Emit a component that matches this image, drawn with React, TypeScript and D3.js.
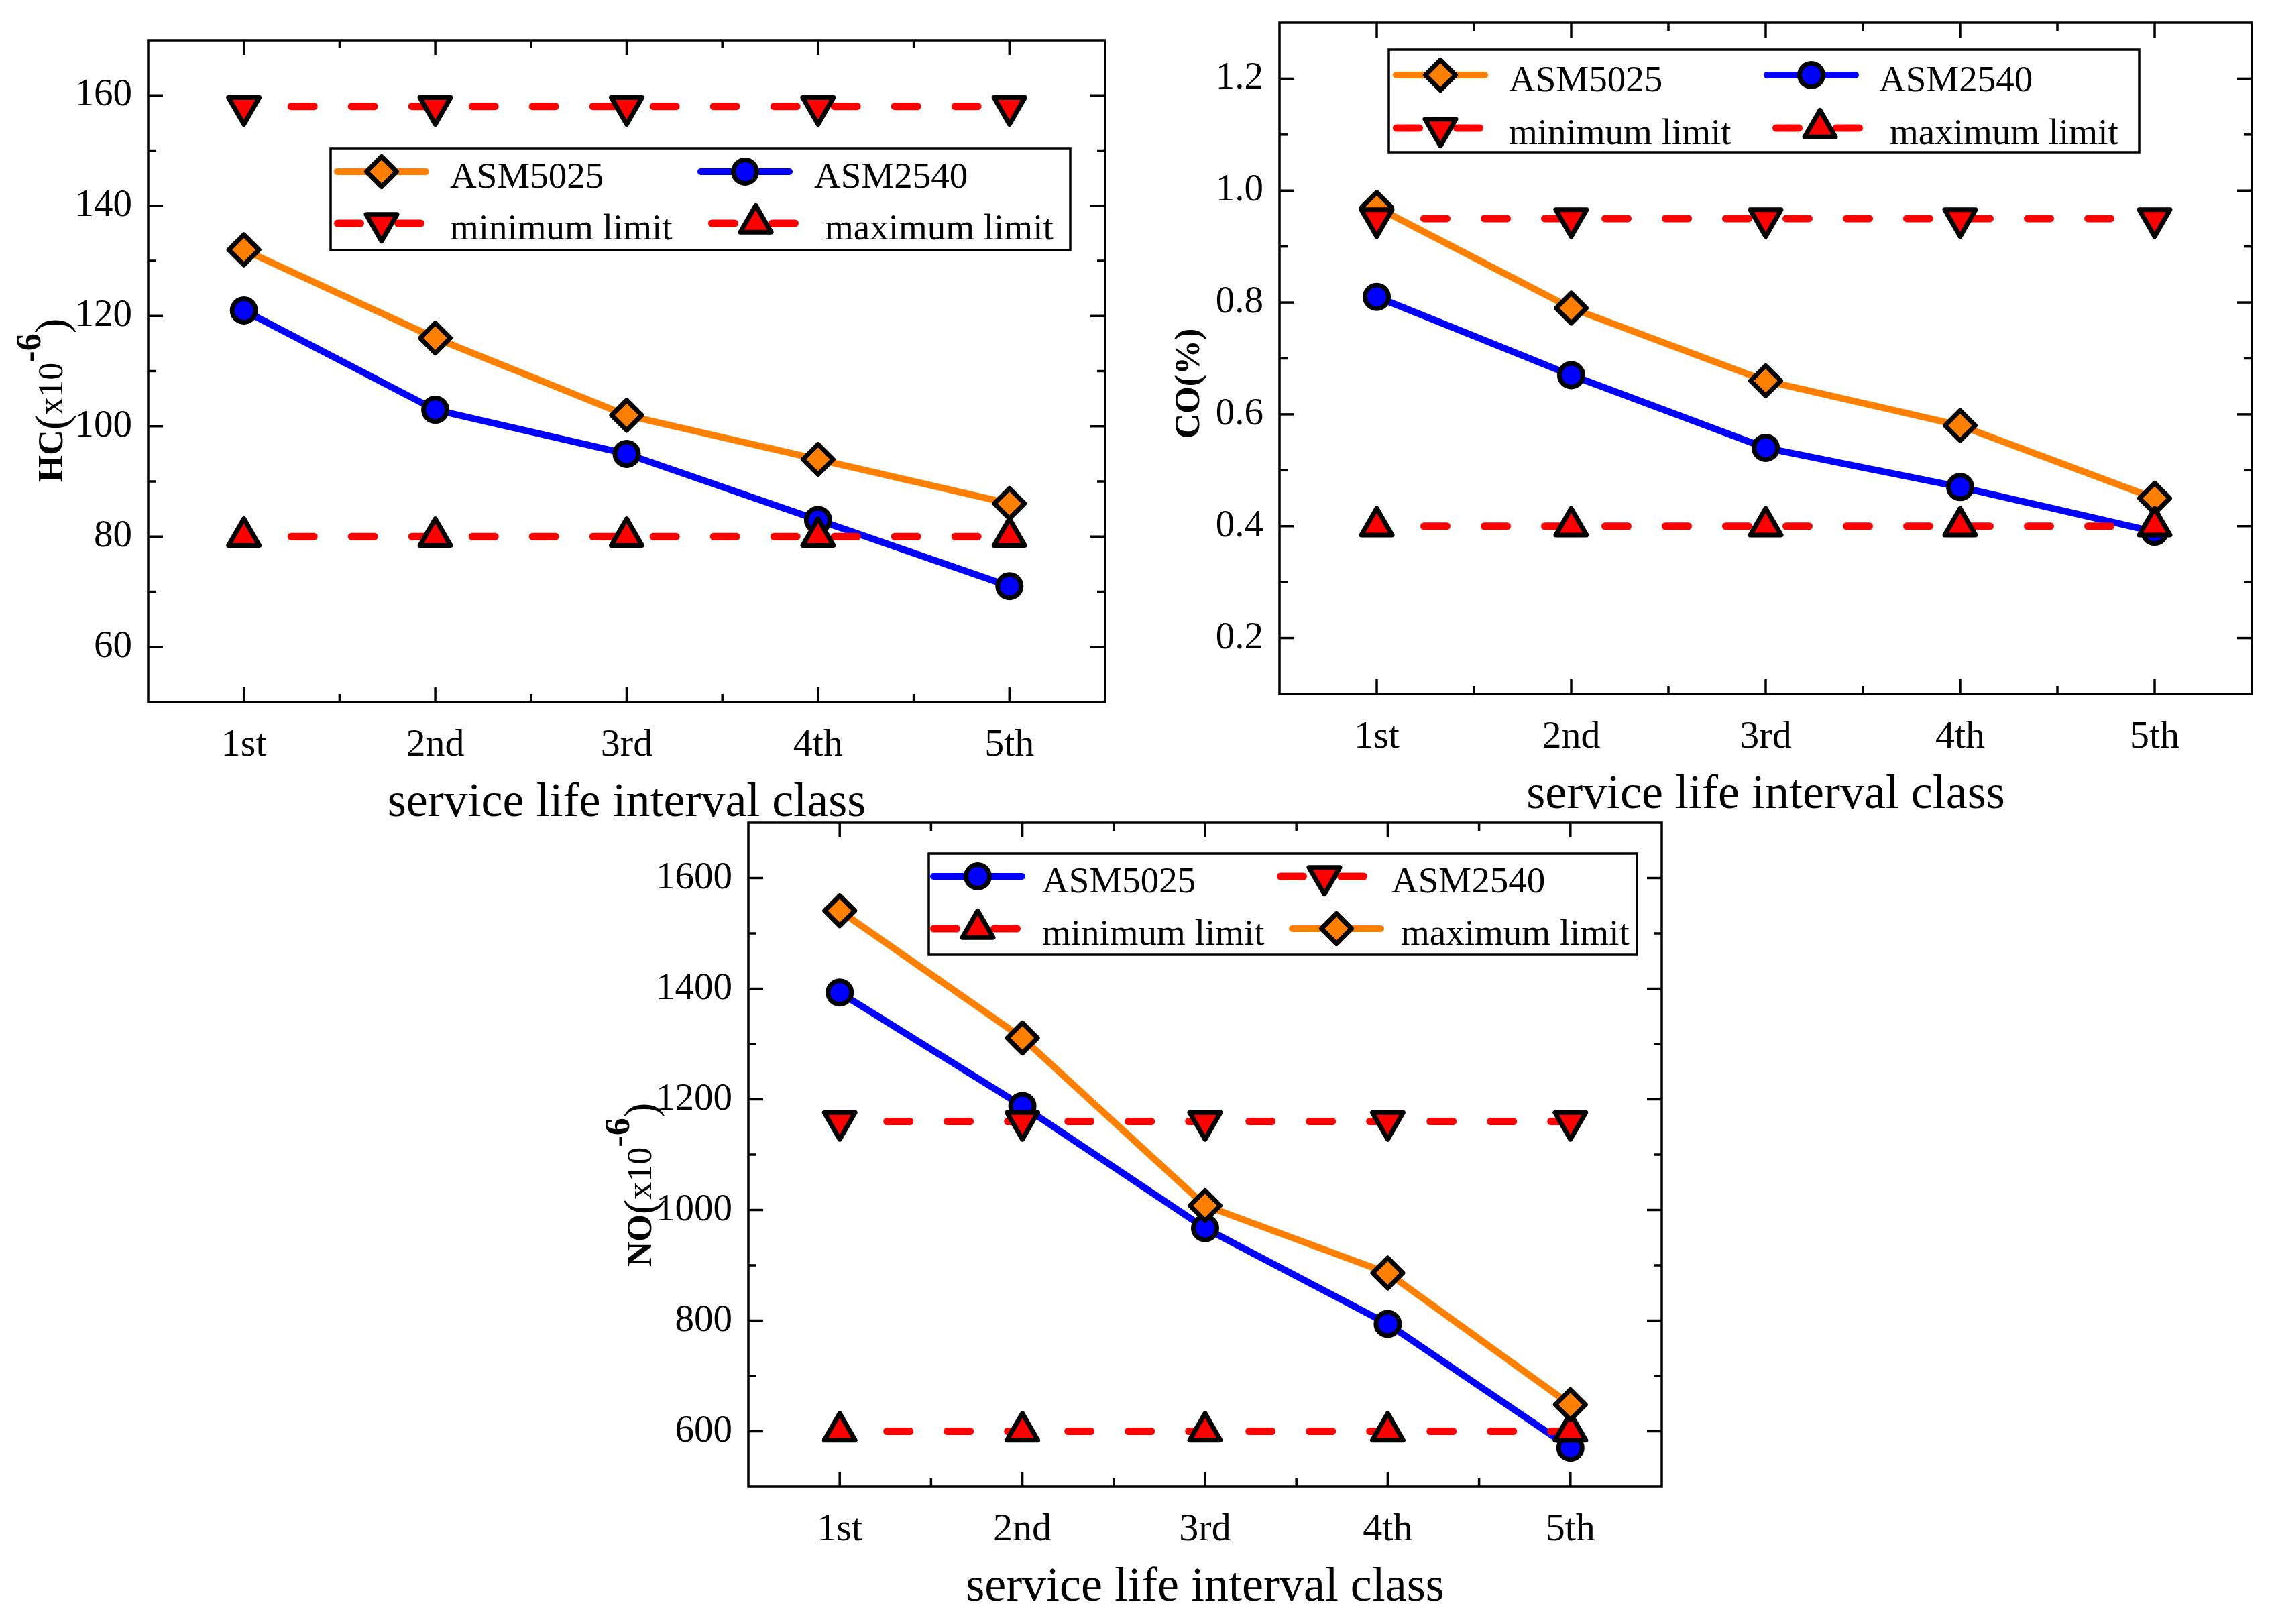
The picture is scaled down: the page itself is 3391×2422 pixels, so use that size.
import React from 'react';
import * as d3 from 'd3';

// service life classes shared by the three panels
const classes = ['1st', '2nd', '3rd', '4th', '5th'];

// HC (x10^-6)
const hcAsm5025 = [132, 116, 102, 94, 86];
const hcAsm2540 = [121, 103, 95, 83, 71];
const hcMinLimit = [158, 158, 158, 158, 158];
const hcMaxLimit = [80, 80, 80, 80, 80];
const hcTicks = [60, 80, 100, 120, 140, 160];
const hcMinor = [70, 90, 110, 130, 150];

// CO (%)
const coAsm5025 = [0.97, 0.79, 0.66, 0.58, 0.45];
const coAsm2540 = [0.81, 0.67, 0.54, 0.47, 0.39];
const coMinLimit = [0.95, 0.95, 0.95, 0.95, 0.95];
const coMaxLimit = [0.4, 0.4, 0.4, 0.4, 0.4];
const coTicks = [0.2, 0.4, 0.6, 0.8, 1.0, 1.2];
const coMinor = [0.3, 0.5, 0.7, 0.9, 1.1];

// NO (x10^-6) - legend labels kept as printed in the figure
const noBlue = [1393, 1188, 967, 794, 570];
const noDown = [1160, 1160, 1160, 1160, 1160];
const noUp = [600, 600, 600, 600, 600];
const noOrange = [1541, 1311, 1008, 886, 648];
const noTicks = [600, 800, 1000, 1200, 1400, 1600];
const noMinor = [700, 900, 1100, 1300, 1500];

const ORANGE = '#FF8000';
const BLUE = '#0000FF';
const RED = '#FF0000';
const FONT = '"Liberation Serif", "Times New Roman", serif';

type Marker = 'diamond' | 'circle' | 'down' | 'up';

interface Series {
  label: string;
  values: number[];
  color: string;
  marker: Marker;
  dashed: boolean;
}

interface LegendLayout {
  x: number;
  y: number;
  w: number;
  h: number;
  rows: [number, number];
  col1Marker: number;
  col1Text: number;
  col2Marker: [number, number];
  col2Text: [number, number];
}

interface PanelProps {
  left: number;
  right: number;
  top: number;
  bottom: number;
  yDomain: [number, number];
  yTicks: number[];
  yMinor: number[];
  yFormat: (v: number) => string;
  titleX: number;
  titleY: number;
  titleMain: string;
  titleExp: boolean;
  series: Series[];
  legend: LegendLayout;
}

const markerPath: Record<Exclude<Marker, 'circle'>, string> = {
  diamond: 'M0,-22.5L22.5,0L0,22.5L-22.5,0Z',
  down: 'M-23,-13.3L23,-13.3L0,26.7Z',
  up: 'M0,-26.7L23,13.3L-23,13.3Z',
};

const Symbol = ({ kind, x, y, fill }: { kind: Marker; x: number; y: number; fill: string }) => {
  const common = { fill, stroke: '#000', strokeWidth: 7, strokeLinejoin: 'round' as const };
  if (kind === 'circle') return <circle cx={x} cy={y} r={17.5} {...common} />;
  return <path d={markerPath[kind]} transform={`translate(${x},${y})`} {...common} />;
};

const DASH = '34 56';
const DASH_PHASE = 19.5;

const Panel = (p: PanelProps) => {
  const x = d3.scaleLinear().domain([0.5, classes.length + 0.5]).range([p.left, p.right]);
  const y = d3.scaleLinear().domain(p.yDomain).range([p.bottom, p.top]);
  const xMajor = classes.map((_, i) => i + 1);
  const xMinor = d3.range(1.5, classes.length, 1);
  const line = d3.line<number>().x((_, i) => x(i + 1)).y(v => y(v));

  const major = 22;
  const minor = 12;
  const cx = (p.left + p.right) / 2;

  return (
    <g fontFamily={FONT}>
      {/* frame */}
      <rect x={p.left} y={p.top} width={p.right - p.left} height={p.bottom - p.top}
        fill="none" stroke="#000" strokeWidth={3.5} />

      {/* x ticks (bottom + top, inward) */}
      {xMajor.map(t => (
        <g key={`xm${t}`}>
          <line x1={x(t)} x2={x(t)} y1={p.bottom} y2={p.bottom - major} stroke="#000" strokeWidth={3.5} />
          <line x1={x(t)} x2={x(t)} y1={p.top} y2={p.top + major} stroke="#000" strokeWidth={3.5} />
          <text x={x(t)} y={p.bottom + 80} fontSize={58} textAnchor="middle">{classes[t - 1]}</text>
        </g>
      ))}
      {xMinor.map(t => (
        <g key={`xn${t}`}>
          <line x1={x(t)} x2={x(t)} y1={p.bottom} y2={p.bottom - minor} stroke="#000" strokeWidth={3.5} />
          <line x1={x(t)} x2={x(t)} y1={p.top} y2={p.top + minor} stroke="#000" strokeWidth={3.5} />
        </g>
      ))}

      {/* y ticks (left + right, inward) */}
      {p.yTicks.map(t => (
        <g key={`ym${t}`}>
          <line x1={p.left} x2={p.left + major} y1={y(t)} y2={y(t)} stroke="#000" strokeWidth={3.5} />
          <line x1={p.right} x2={p.right - major} y1={y(t)} y2={y(t)} stroke="#000" strokeWidth={3.5} />
          <text x={p.left - 24} y={y(t) + 15} fontSize={57} textAnchor="end">{p.yFormat(t)}</text>
        </g>
      ))}
      {p.yMinor.map(t => (
        <g key={`yn${t}`}>
          <line x1={p.left} x2={p.left + minor} y1={y(t)} y2={y(t)} stroke="#000" strokeWidth={3.5} />
          <line x1={p.right} x2={p.right - minor} y1={y(t)} y2={y(t)} stroke="#000" strokeWidth={3.5} />
        </g>
      ))}

      {/* axis titles */}
      <text x={cx} y={p.bottom + 170} fontSize={72} textAnchor="middle">service life interval class</text>
      <text transform={`translate(${p.titleX},${p.titleY}) rotate(-90)`} fontSize={52} textAnchor="middle">
        {p.titleExp ? (
          <>
            <tspan fontWeight="bold">{p.titleMain}</tspan>
            <tspan fontSize={68} dy={6}>(</tspan>
            <tspan dy={-6}>x10</tspan>
            <tspan dy={-33} fontWeight="bold">-6</tspan>
            <tspan dy={39} fontSize={68}>)</tspan>
          </>
        ) : (
          <tspan fontWeight="bold">{p.titleMain}</tspan>
        )}
      </text>

      {/* data */}
      {p.series.map(s => {
        const d = line(s.values) || '';
        if (s.dashed) {
          const x0 = x(1) + 20;
          const dd = d3.line<number>().x((_, i) => (i === 0 ? x0 : x(i + 1))).y(v => y(v))(s.values) || '';
          return (
            <g key={s.label}>
              <path d={dd} fill="none" stroke={s.color} strokeWidth={11} strokeLinecap="round"
                strokeDasharray={DASH} strokeDashoffset={DASH_PHASE + 20} />
              {s.values.map((v, i) => <Symbol key={i} kind={s.marker} x={x(i + 1)} y={y(v)} fill={s.color} />)}
            </g>
          );
        }
        return (
          <g key={s.label}>
            <path d={d} fill="none" stroke={s.color} strokeWidth={10} strokeLinejoin="round" strokeLinecap="round" />
            {s.values.map((v, i) => <Symbol key={i} kind={s.marker} x={x(i + 1)} y={y(v)} fill={s.color} />)}
          </g>
        );
      })}

      {/* legend */}
      <rect x={p.legend.x} y={p.legend.y} width={p.legend.w} height={p.legend.h}
        fill="#fff" stroke="#000" strokeWidth={3.5} />
      {p.series.map((s, i) => {
        const row = Math.floor(i / 2);
        const col = i % 2;
        const ly = p.legend.rows[row];
        const mx = col === 0 ? p.legend.col1Marker : p.legend.col2Marker[row];
        const tx = col === 0 ? p.legend.col1Text : p.legend.col2Text[row];
        return (
          <g key={`lg${s.label}`}>
            {s.dashed ? (
              <path d={`M${mx - 65.5},${ly}H${mx + 65.5}`} stroke={s.color} strokeWidth={11}
                strokeLinecap="round" strokeDasharray={DASH} />
            ) : (
              <path d={`M${mx - 66},${ly}H${mx + 66}`} stroke={s.color} strokeWidth={10} strokeLinecap="round" />
            )}
            <Symbol kind={s.marker} x={mx} y={ly} fill={s.color} />
            <text x={tx} y={ly + 24} fontSize={55}>{s.label}</text>
          </g>
        );
      })}
    </g>
  );
};

const fmtInt = (v: number) => d3.format('d')(v);
const fmtOne = (v: number) => d3.format('.1f')(v);

export default function App() {
  const hcSeries: Series[] = [
    { label: 'ASM5025', values: hcAsm5025, color: ORANGE, marker: 'diamond', dashed: false },
    { label: 'ASM2540', values: hcAsm2540, color: BLUE, marker: 'circle', dashed: false },
    { label: 'minimum limit', values: hcMinLimit, color: RED, marker: 'down', dashed: true },
    { label: 'maximum limit', values: hcMaxLimit, color: RED, marker: 'up', dashed: true },
  ];
  const coSeries: Series[] = [
    { label: 'ASM5025', values: coAsm5025, color: ORANGE, marker: 'diamond', dashed: false },
    { label: 'ASM2540', values: coAsm2540, color: BLUE, marker: 'circle', dashed: false },
    { label: 'minimum limit', values: coMinLimit, color: RED, marker: 'down', dashed: true },
    { label: 'maximum limit', values: coMaxLimit, color: RED, marker: 'up', dashed: true },
  ];
  const noSeries: Series[] = [
    { label: 'ASM5025', values: noBlue, color: BLUE, marker: 'circle', dashed: false },
    { label: 'ASM2540', values: noDown, color: RED, marker: 'down', dashed: true },
    { label: 'minimum limit', values: noUp, color: RED, marker: 'up', dashed: true },
    { label: 'maximum limit', values: noOrange, color: ORANGE, marker: 'diamond', dashed: false },
  ];

  return (
    <svg width={3391} height={2422} viewBox="0 0 3391 2422"
      style={{ position: 'absolute', left: 0, top: 0, background: '#fff' }}>
      <rect width={3391} height={2422} fill="#fff" />
      <Panel left={221} right={1648} top={60} bottom={1047} yDomain={[50, 170]}
        yTicks={hcTicks} yMinor={hcMinor} yFormat={fmtInt}
        titleX={93} titleY={597} titleMain="HC" titleExp series={hcSeries}
        legend={{ x: 493, y: 221, w: 1103, h: 152, rows: [256, 333], col1Marker: 569, col1Text: 671,
          col2Marker: [1111, 1127], col2Text: [1214, 1230] }} />
      <Panel left={1908} right={3358} top={34} bottom={1035} yDomain={[0.1, 1.3]}
        yTicks={coTicks} yMinor={coMinor} yFormat={fmtOne}
        titleX={1788} titleY={572} titleMain="CO(%)" titleExp={false} series={coSeries}
        legend={{ x: 2071, y: 74, w: 1119, h: 153, rows: [112, 191], col1Marker: 2148, col1Text: 2250,
          col2Marker: [2701, 2714], col2Text: [2802, 2818] }} />
      <Panel left={1116} right={2478} top={1227} bottom={2217} yDomain={[500, 1700]}
        yTicks={noTicks} yMinor={noMinor} yFormat={fmtInt}
        titleX={971} titleY={1767} titleMain="NO" titleExp series={noSeries}
        legend={{ x: 1385, y: 1273, w: 1056, h: 151, rows: [1307, 1385], col1Marker: 1458, col1Text: 1554,
          col2Marker: [1975, 1993], col2Text: [2075, 2089] }} />
    </svg>
  );
}
